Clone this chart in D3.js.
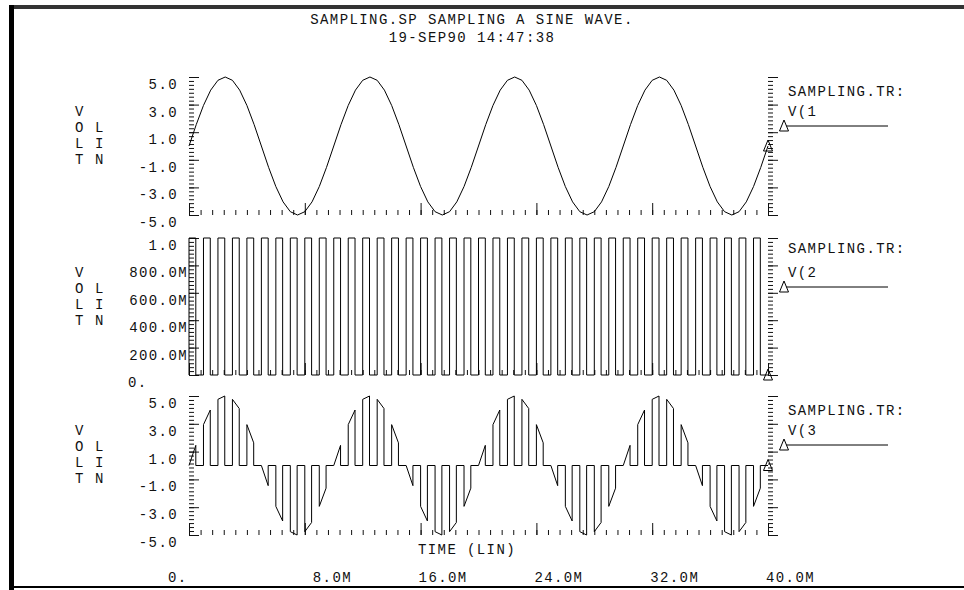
<!DOCTYPE html>
<html>
<head>
<meta charset="utf-8">
<script src="https://cdn.jsdelivr.net/npm/d3@7"></script>
<style>
  body { margin: 0; background: #fff; }
  text { font-family: "Liberation Mono", "DejaVu Sans Mono", monospace; font-size: 14px; letter-spacing: 1.4px; fill: #111; }
  .tick line { stroke: #111; stroke-width: 1; }
</style>
</head>
<body>
<div id="chart"></div>
<script>
// SAMPLING.SP transient plot, 3 stacked traces sharing a time axis

const titleLines = ["SAMPLING.SP SAMPLING A SINE WAVE.", "19-SEP90 14:47:38"];

const timeTicks = [0, 8, 16, 24, 32, 40];
const timeTickLabels = ["0.", "8.0M", "16.0M", "24.0M", "32.0M", "40.0M"];

const voltTicks = [5, 3, 1, -1, -3, -5];
const voltTickLabels = ["5.0", "3.0", "1.0", "-1.0", "-3.0", "-5.0"];
const clockTicks = [1, 0.8, 0.6, 0.4, 0.2, 0];
const clockTickLabels = ["1.0", "800.0M", "600.0M", "400.0M", "200.0M", "0."];

// V(1): sine read every 0.5M
const v1Step = 0.5;
const v1 = [
  0, 1.55, 2.94, 4.05, 4.76, 5.0, 4.76, 4.05, 2.94, 1.55,
  0, -1.55, -2.94, -4.05, -4.76, -5.0, -4.76, -4.05, -2.94, -1.55,
  0, 1.55, 2.94, 4.05, 4.76, 5.0, 4.76, 4.05, 2.94, 1.55,
  0, -1.55, -2.94, -4.05, -4.76, -5.0, -4.76, -4.05, -2.94, -1.55,
  0, 1.55, 2.94, 4.05, 4.76, 5.0, 4.76, 4.05, 2.94, 1.55,
  0, -1.55, -2.94, -4.05, -4.76, -5.0, -4.76, -4.05, -2.94, -1.55,
  0, 1.55, 2.94, 4.05, 4.76, 5.0, 4.76, 4.05, 2.94, 1.55,
  0, -1.55, -2.94, -4.05, -4.76, -5.0, -4.76, -4.05, -2.94, -1.55,
  0
];

// V(2): clock pulses, start of each high level (M) and high width
const pulseStart = [0, 1, 2, 3, 4, 5, 6, 7, 8, 9, 10, 11, 12, 13, 14, 15, 16, 17, 18, 19,
  20, 21, 22, 23, 24, 25, 26, 27, 28, 29, 30, 31, 32, 33, 34, 35, 36, 37, 38, 39];
const pulseWidth = 0.47;
const pulseLow = 0, pulseHigh = 1;

// V(3): sampled value at start and end of each pulse, 0 between
const v3Begin = [
  0, 2.94, 4.76, 4.76, 2.94, 0, -2.94, -4.76, -4.76, -2.94,
  0, 2.94, 4.76, 4.76, 2.94, 0, -2.94, -4.76, -4.76, -2.94,
  0, 2.94, 4.76, 4.76, 2.94, 0, -2.94, -4.76, -4.76, -2.94,
  0, 2.94, 4.76, 4.76, 2.94, 0, -2.94, -4.76, -4.76, -2.94
];
const v3End = [
  1.45, 3.99, 5.0, 4.1, 1.63, -1.45, -3.99, -5.0, -4.1, -1.63,
  1.45, 3.99, 5.0, 4.1, 1.63, -1.45, -3.99, -5.0, -4.1, -1.63,
  1.45, 3.99, 5.0, 4.1, 1.63, -1.45, -3.99, -5.0, -4.1, -1.63,
  1.45, 3.99, 5.0, 4.1, 1.63, -1.45, -3.99, -5.0, -4.1, -1.63
];

const legendTitle = "SAMPLING.TR:";
const traceNames = ["V(1", "V(2", "V(3"];

// ---- build point lists
const v1Pts = v1.map((v, i) => ({ t: i * v1Step, v: v }));

let v2Pts = [];
pulseStart.forEach(s => {
  v2Pts.push({ t: s, v: pulseLow }, { t: s, v: pulseHigh },
             { t: s + pulseWidth, v: pulseHigh }, { t: s + pulseWidth, v: pulseLow });
});
v2Pts.push({ t: 40, v: pulseLow });

let v3Pts = [];
pulseStart.forEach((s, i) => {
  v3Pts.push({ t: s, v: 0 }, { t: s, v: v3Begin[i] },
             { t: s + pulseWidth, v: v3End[i] }, { t: s + pulseWidth, v: 0 });
});
v3Pts.push({ t: 40, v: 0 });

const W = 964, H = 590;
const svg = d3.select("#chart").append("svg")
  .attr("width", W).attr("height", H);

// frame
svg.append("rect").attr("x", 9).attr("y", 5).attr("width", W - 9).attr("height", 4).attr("fill", "#333");
svg.append("rect").attr("x", 9).attr("y", 5).attr("width", 5).attr("height", H - 5).attr("fill", "#000");
svg.append("rect").attr("x", 9).attr("y", 586).attr("width", W - 9).attr("height", 2).attr("fill", "#000");

// title
titleLines.forEach((s, i) => {
  svg.append("text").attr("x", 472).attr("y", 19 + i * 18.5).attr("dy", "0.35em")
    .attr("text-anchor", "middle").text(s);
});

const xScale = d3.scaleLinear().domain([0, 40]).range([189, 768]);

const panels = [
  { top: 77, bottom: 215, domain: [-5, 5], ticks: voltTicks, labels: voltTickLabels, pts: v1Pts, legendDy: 14 },
  { top: 238, bottom: 375, domain: [0, 1], ticks: clockTicks, labels: clockTickLabels, pts: v2Pts, legendDy: 10 },
  { top: 396, bottom: 535, domain: [-5, 5], ticks: voltTicks, labels: voltTickLabels, pts: v3Pts, legendDy: 14 }
];

const tri = "M0,-6L4.5,5L-4.5,5Z";

panels.forEach((p, pi) => {
  const yScale = d3.scaleLinear().domain(p.domain).range([p.bottom, p.top]);
  const g = svg.append("g");

  // minor y ticks: 7 per major interval
  const step = (p.domain[1] - p.domain[0]) / 5;
  const minor = d3.range(0, 36).map(i => p.domain[0] + i * step / 7);

  [189, 768].forEach(ax => {
    const gm = g.append("g").attr("transform", `translate(${ax},0)`)
      .call(d3.axisRight(yScale).tickValues(minor).tickSize(5).tickFormat(""));
    gm.select(".domain").remove();
    const gM = g.append("g").attr("transform", `translate(${ax},0)`)
      .call(d3.axisRight(yScale).tickValues(p.ticks).tickSize(10).tickFormat(""));
    gM.select(".domain").remove();
  });

  // bottom time ticks
  const xm = g.append("g").attr("transform", `translate(0,${p.bottom})`)
    .call(d3.axisTop(xScale).tickValues(d3.range(0, 51).map(i => i * 0.8)).tickSize(5).tickFormat(""));
  xm.select(".domain").remove();
  const xM = g.append("g").attr("transform", `translate(0,${p.bottom})`)
    .call(d3.axisTop(xScale).tickValues(timeTicks).tickSize(12).tickFormat(""));
  xM.select(".domain").remove();

  // y tick labels
  p.ticks.forEach((v, i) => {
    const s = p.labels[i];
    const t = g.append("text").attr("y", yScale(v) + 7).attr("dy", "0.35em").text(s);
    if (s === "0.") t.attr("x", 128).attr("text-anchor", "start");
    else if (s.endsWith("M")) t.attr("x", 188).attr("text-anchor", "end");
    else t.attr("x", 178).attr("text-anchor", "end");
  });

  // axis title
  const col1 = ["V", "O", "L", "T"], col2 = ["", "L", "I", "N"];
  col1.forEach((c, i) => {
    g.append("text").attr("x", 80).attr("y", p.top + 34 + i * 16).attr("dy", "0.35em")
      .attr("text-anchor", "middle").text(c);
    if (col2[i]) g.append("text").attr("x", 100).attr("y", p.top + 34 + i * 16).attr("dy", "0.35em")
      .attr("text-anchor", "middle").text(col2[i]);
  });

  // trace
  const line = d3.line().x(d => xScale(d.t)).y(d => yScale(d.v));
  g.append("path").datum(p.pts).attr("d", line)
    .attr("fill", "none").attr("stroke", "#000").attr("stroke-width", 1);

  const last = p.pts[p.pts.length - 1];
  g.append("path").attr("d", tri).attr("fill", "none").attr("stroke", "#000")
    .attr("transform", `translate(${xScale(last.t)},${yScale(last.v)})`);

  // legend
  g.append("text").attr("x", 788).attr("y", p.top + p.legendDy).attr("dy", "0.35em").text(legendTitle);
  g.append("text").attr("x", 788).attr("y", p.top + 34).attr("dy", "0.35em").text(traceNames[pi]);
  g.append("line").attr("x1", 784).attr("x2", 888)
    .attr("y1", p.top + 49).attr("y2", p.top + 49).attr("stroke", "#000");
  g.append("path").attr("d", tri).attr("fill", "#fff").attr("stroke", "#000")
    .attr("transform", `translate(784,${p.top + 49})`);
});

// time axis labels
timeTicks.forEach((v, i) => {
  const s = timeTickLabels[i];
  const t = svg.append("text").attr("y", 577).attr("dy", "0.35em").text(s);
  if (s === "0.") t.attr("x", xScale(v) - 21);
  else t.attr("x", xScale(v) - 2 + (5 - s.length) * 10);
});
svg.append("text").attr("x", 418).attr("y", 549).attr("dy", "0.35em").text("TIME (LIN)");
</script>
</body>
</html>
